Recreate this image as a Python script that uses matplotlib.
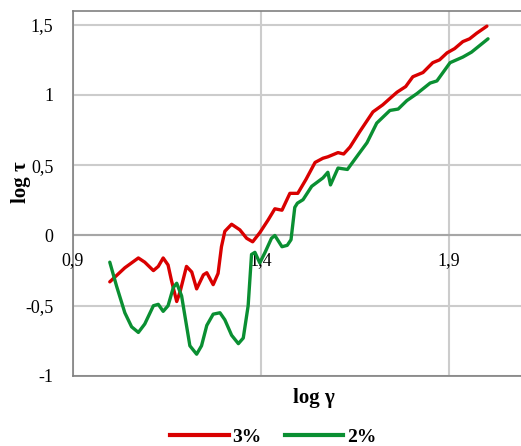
import matplotlib.pyplot as plt
from matplotlib.lines import Line2D

# 3% series (log gamma, log tau)
x_3 = [0.998, 1.038, 1.074, 1.091, 1.114, 1.127, 1.140, 1.153, 1.162, 1.176,
       1.185, 1.202, 1.216, 1.229, 1.247, 1.256, 1.273, 1.286, 1.295, 1.304,
       1.322, 1.344, 1.362, 1.378, 1.397, 1.419, 1.437, 1.456, 1.477, 1.498,
       1.520, 1.544, 1.565, 1.578, 1.605, 1.620, 1.637, 1.663, 1.698, 1.724,
       1.745, 1.762, 1.785, 1.804, 1.831, 1.857, 1.875, 1.895, 1.915, 1.937,
       1.955, 1.974, 2.001]
y_3 = [-0.33, -0.23, -0.16, -0.19, -0.25, -0.22, -0.16, -0.21, -0.32, -0.47,
       -0.40, -0.22, -0.26, -0.38, -0.28, -0.265, -0.35, -0.27, -0.08, 0.03,
       0.08, 0.04, -0.02, -0.045, 0.02, 0.11, 0.19, 0.18, 0.30, 0.30,
       0.40, 0.52, 0.55, 0.56, 0.59, 0.58, 0.63, 0.74, 0.88, 0.93,
       0.98, 1.02, 1.06, 1.13, 1.16, 1.23, 1.25, 1.30, 1.33, 1.38,
       1.40, 1.44, 1.49]

# 2% series
x_2 = [0.998, 1.016, 1.038, 1.056, 1.074, 1.091, 1.114, 1.127, 1.140, 1.153,
       1.167, 1.176, 1.189, 1.202, 1.211, 1.229, 1.242, 1.256, 1.273, 1.291,
       1.304, 1.322, 1.340, 1.353, 1.366, 1.375, 1.384, 1.397, 1.411, 1.428,
       1.437, 1.456, 1.470, 1.480, 1.490, 1.497, 1.512, 1.535, 1.565, 1.578,
       1.585, 1.605, 1.630, 1.660, 1.682, 1.708, 1.743, 1.765, 1.788, 1.815,
       1.850, 1.868, 1.903, 1.937, 1.960, 2.004]
y_2 = [-0.19, -0.36, -0.55, -0.65, -0.69, -0.63, -0.50, -0.49, -0.54, -0.50,
       -0.37, -0.34, -0.43, -0.64, -0.785, -0.845, -0.785, -0.64, -0.56, -0.55,
       -0.60, -0.71, -0.77, -0.73, -0.50, -0.135, -0.12, -0.195, -0.12, -0.02,
       0.0, -0.08, -0.07, -0.03, 0.20, 0.23, 0.255, 0.35, 0.41, 0.45,
       0.36, 0.48, 0.47, 0.58, 0.66, 0.80, 0.89, 0.90, 0.96, 1.01,
       1.085, 1.10, 1.23, 1.27, 1.305, 1.40]

y_ticks = [-1, -0.5, 0, 0.5, 1, 1.5]
y_labels = ['-1', '-0,5', '0', '0,5', '1', '1,5']
x_ticks = [0.9, 1.4, 1.9]
x_labels = ['0,9', '1,4', '1,9']

red = '#d90000'
green = '#0a8f32'

plt.rcParams.update({'font.family': 'Liberation Serif', 'font.size': 13})

fig = plt.figure(figsize=(5.21, 4.46), dpi=100)
ax = fig.add_axes([0.140, 0.157, 0.866, 0.819])

ax.set_xlim(0.9, 2.1)
ax.set_ylim(-1, 1.6)

ax.set_yticks(y_ticks)
ax.set_yticklabels(y_labels)
ax.set_xticks(x_ticks)
ax.set_xticklabels([])
ax.tick_params(axis='both', length=0)
ax.tick_params(axis='y', pad=14, labelsize=13)

ax.grid(True, color='#cccccc', linewidth=1.5)
ax.set_axisbelow(True)
ax.axhline(0, color='#a6a6a6', linewidth=1.5, zorder=1)

for s in ['left', 'bottom', 'top']:
    ax.spines[s].set_color('#808080')
    ax.spines[s].set_linewidth(1.2)
ax.spines['right'].set_visible(False)

# x tick labels sit under the zero line, Excel style
for xt, lab in zip(x_ticks, x_labels):
    ax.text(xt, -0.177, lab, ha='center', va='center', fontsize=13)

ax.plot(x_3, y_3, color=red, linewidth=2.4, solid_joinstyle='round',
        solid_capstyle='round', zorder=3)
ax.plot(x_2, y_2, color=green, linewidth=2.4, solid_joinstyle='round',
        solid_capstyle='round', zorder=3)

fig.text(0.602, 1 - 398 / 446, 'log γ', ha='center', va='center',
         fontsize=15, fontweight='bold')
fig.text(0.040, 1 - 182 / 446, 'log τ', ha='center', va='center',
         fontsize=15, fontweight='bold', rotation=90)

handles = [Line2D([], [], color=red, linewidth=3),
           Line2D([], [], color=green, linewidth=3)]
fig.legend(handles, ['3%', '2%'], loc='center', bbox_to_anchor=(0.525, 1 - 437 / 446),
           ncol=2, frameon=False, handlelength=3.0, handletextpad=0.2,
           columnspacing=1.2, prop={'family': 'Liberation Serif', 'weight': 'bold', 'size': 14})

fig.savefig('out.png', dpi=100)
